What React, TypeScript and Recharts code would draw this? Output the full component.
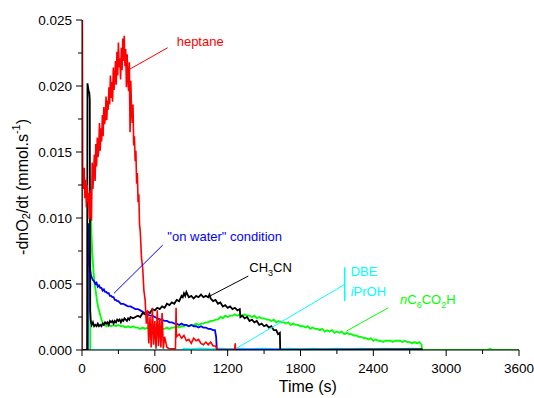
import { Line, LineChart, XAxis, YAxis, ReferenceLine, ReferenceDot } from "recharts";

type P = [number, number];

const heptane: P[] = [
  [0, 0], [2, 0.03], [6, 0.0135], [12, 0.0122], [18, 0.0138], [24, 0.0115], [30, 0.0129], [36, 0.0108],
  [42, 0.0125], [48, 0.0112], [54, 0.0119], [60, 0.0099], [66, 0.0121], [72, 0.0104], [78, 0.0098],
  [84, 0.0142], [90, 0.0122], [96, 0.0135], [102, 0.0148], [108, 0.0128], [114, 0.0156], [120, 0.0139],
  [126, 0.0161], [132, 0.0146], [138, 0.0152], [144, 0.0172], [150, 0.0151], [156, 0.0168], [162, 0.0158],
  [168, 0.0178], [174, 0.0162], [180, 0.0184], [186, 0.0171], [192, 0.0176], [198, 0.0192], [204, 0.0174],
  [210, 0.0189], [216, 0.0182], [222, 0.0199], [228, 0.0186], [234, 0.0208], [240, 0.0191], [246, 0.0203],
  [252, 0.0188], [258, 0.0214], [264, 0.0197], [270, 0.0206], [276, 0.0219], [282, 0.0201], [288, 0.0226],
  [294, 0.0208], [300, 0.0233], [306, 0.0214], [312, 0.0221], [318, 0.0205], [324, 0.0229], [330, 0.0212],
  [336, 0.0236], [342, 0.0219], [348, 0.0238], [354, 0.0215], [360, 0.0228], [366, 0.0199], [372, 0.0224],
  [378, 0.0206], [384, 0.0196], [390, 0.0218], [396, 0.0165], [402, 0.0204], [408, 0.0182], [414, 0.0172],
  [420, 0.0186], [426, 0.0155], [432, 0.0162], [438, 0.0143], [444, 0.0151], [450, 0.0126], [456, 0.0134],
  [462, 0.0112], [468, 0.0118], [474, 0.0095], [480, 0.009], [490, 0.007], [500, 0.0062], [510, 0.0045],
  [520, 0.0038], [530, 0.002], [540, 0.003], [550, 0.0005], [560, 0.0025], [570, 0.0002], [580, 0.0032],
  [590, 0.0004], [600, 0.0022], [610, 0.0001], [620, 0.003], [630, 0.0003], [640, 0.0024], [650, 0.0002],
  [660, 0.0028], [670, 0.0001], [680, 0.001], [700, 0.0002], [720, 0.0001], [770, 0.0001], [775, 0.0032],
  [778, 0.001], [800, 0.0012], [820, 0.0009], [840, 0.0011], [860, 0.0007], [880, 0.0008], [900, 0.0005],
  [920, 0.0009], [940, 0.0007], [960, 0.0008], [980, 0.0005], [1000, 0.0004], [1020, 0.0006],
  [1040, 0.0004], [1060, 0.0006], [1080, 0.0003], [1100, 0.0003], [1120, 0], [1258, 0], [1262, 0.0005],
  [1266, 0],
];

const ch3cn: P[] = [
  [0, 0], [42, 0], [45, 0.0202], [50, 0.0199], [55, 0.0196], [60, 0.0195], [64, 0.019], [67, 0.003],
  [72, 0.0022], [80, 0.0019], [90, 0.0021], [100, 0.0018], [110, 0.0019], [120, 0.0018], [130, 0.002],
  [140, 0.0018], [150, 0.0019], [160, 0.0018], [170, 0.002], [180, 0.0019], [190, 0.0021], [200, 0.002],
  [210, 0.0021], [220, 0.0019], [230, 0.0022], [240, 0.0021], [250, 0.0022], [260, 0.002], [270, 0.0022],
  [280, 0.0021], [290, 0.0023], [300, 0.0022], [310, 0.0023], [320, 0.0021], [330, 0.0023], [340, 0.0022],
  [350, 0.0024], [360, 0.0023], [370, 0.0022], [380, 0.0024], [390, 0.0023], [400, 0.0025], [420, 0.0024],
  [440, 0.0025], [460, 0.0026], [480, 0.0025], [500, 0.0028], [520, 0.0027], [540, 0.0029], [560, 0.0028],
  [580, 0.0031], [600, 0.003], [620, 0.0032], [640, 0.0031], [660, 0.0033], [680, 0.0032], [700, 0.0035],
  [720, 0.0034], [740, 0.0036], [760, 0.0035], [780, 0.0038], [800, 0.0037], [810, 0.0039], [820, 0.0041],
  [830, 0.004], [840, 0.0043], [850, 0.0041], [860, 0.0044], [870, 0.0042], [880, 0.004], [900, 0.0041],
  [920, 0.0039], [940, 0.0041], [960, 0.004], [980, 0.0042], [1000, 0.004], [1020, 0.0041], [1040, 0.004],
  [1050, 0.0042], [1060, 0.0039], [1080, 0.0037], [1100, 0.0038], [1120, 0.0035], [1140, 0.0036],
  [1160, 0.0033], [1180, 0.0034], [1200, 0.0032], [1220, 0.0033], [1240, 0.0031], [1260, 0.0032],
  [1280, 0.003], [1300, 0.0031], [1305, 0.0025], [1320, 0.0026], [1340, 0.0024], [1360, 0.0025],
  [1380, 0.0022], [1400, 0.0023], [1420, 0.0021], [1440, 0.0022], [1460, 0.0019], [1480, 0.002],
  [1500, 0.0018], [1520, 0.0019], [1540, 0.0017], [1560, 0.0018], [1580, 0.0015], [1600, 0.0015],
  [1615, 0.0012], [1630, 0.0013], [1633, 0], [2800, 0.00004], [2802, 0],
];

const onWater: P[] = [
  [0, 0], [48, 0], [50, 0.0096], [54, 0.0085], [58, 0.0072], [63, 0.0065], [68, 0.006], [74, 0.0057],
  [80, 0.0055], [90, 0.0053], [100, 0.0052], [110, 0.005], [120, 0.0051], [130, 0.0048], [140, 0.0049],
  [150, 0.0047], [160, 0.0047], [170, 0.0045], [180, 0.0046], [190, 0.0044], [200, 0.0044], [210, 0.0043],
  [220, 0.0043], [230, 0.0041], [240, 0.0041], [250, 0.004], [260, 0.004], [270, 0.0038], [280, 0.0038],
  [290, 0.0037], [300, 0.0037], [320, 0.0035], [340, 0.0035], [360, 0.0034], [380, 0.0033], [400, 0.0033],
  [420, 0.0032], [440, 0.0031], [460, 0.0031], [480, 0.003], [500, 0.0029], [520, 0.0028], [540, 0.0027],
  [560, 0.0026], [580, 0.0026], [600, 0.0025], [620, 0.0024], [640, 0.0023], [660, 0.0023], [680, 0.0022],
  [700, 0.0022], [720, 0.0021], [740, 0.0021], [760, 0.002], [780, 0.002], [800, 0.0019], [820, 0.002],
  [840, 0.0019], [860, 0.0019], [880, 0.0018], [900, 0.0019], [920, 0.0018], [940, 0.0018], [960, 0.0017],
  [980, 0.0018], [1000, 0.0017], [1020, 0.0017], [1040, 0.0016], [1060, 0.0016], [1080, 0.0015],
  [1095, 0.0015], [1105, 0.001], [1110, 0.0001], [1120, 0.00003], [2800, 0.00003], [2802, 0],
];

const hexanoic: P[] = [
  [0, 0], [68, 0], [70, 0.011], [74, 0.0102], [78, 0.0088], [84, 0.0075], [90, 0.0066], [96, 0.0058],
  [104, 0.005], [114, 0.0044], [124, 0.0037], [134, 0.0032], [146, 0.0028], [160, 0.0023], [175, 0.002],
  [190, 0.0019], [200, 0.0018], [220, 0.0019], [240, 0.0018], [260, 0.0019], [280, 0.0018], [300, 0.0019],
  [320, 0.0018], [340, 0.0018], [360, 0.0017], [380, 0.0018], [400, 0.0017], [420, 0.0018], [440, 0.0017],
  [460, 0.0017], [480, 0.0016], [500, 0.0017], [520, 0.0016], [540, 0.0017], [560, 0.0016], [580, 0.0017],
  [600, 0.0016], [620, 0.0016], [640, 0.0015], [660, 0.0016], [680, 0.0016], [700, 0.0017], [720, 0.0016],
  [740, 0.0017], [760, 0.0017], [780, 0.0018], [800, 0.0017], [820, 0.0018], [840, 0.0018], [860, 0.0019],
  [880, 0.0018], [900, 0.0019], [920, 0.0019], [940, 0.002], [960, 0.0019], [980, 0.002], [1000, 0.002],
  [1020, 0.0021], [1040, 0.0021], [1060, 0.0022], [1080, 0.0022], [1100, 0.0023], [1120, 0.0023],
  [1140, 0.0025], [1160, 0.0024], [1180, 0.0026], [1200, 0.0025], [1220, 0.0026], [1240, 0.0026],
  [1260, 0.0027], [1280, 0.0026], [1300, 0.0027], [1320, 0.0026], [1340, 0.0027], [1360, 0.0026],
  [1380, 0.0026], [1400, 0.0025], [1420, 0.0026], [1440, 0.0024], [1460, 0.0025], [1480, 0.0024],
  [1500, 0.0024], [1520, 0.0023], [1540, 0.0023], [1560, 0.0022], [1580, 0.0023], [1600, 0.0021],
  [1620, 0.0022], [1640, 0.0021], [1660, 0.0021], [1680, 0.002], [1700, 0.0021], [1720, 0.0019],
  [1740, 0.002], [1760, 0.0019], [1780, 0.0019], [1800, 0.0018], [1820, 0.0018], [1840, 0.0017],
  [1860, 0.0018], [1880, 0.0016], [1900, 0.0017], [1920, 0.0016], [1940, 0.0016], [1960, 0.0015],
  [1980, 0.0016], [2000, 0.0014], [2020, 0.0015], [2040, 0.0014], [2060, 0.0015], [2080, 0.0013],
  [2100, 0.0014], [2120, 0.0013], [2140, 0.0014], [2160, 0.0012], [2180, 0.0013], [2200, 0.0012],
  [2220, 0.0012], [2240, 0.0011], [2260, 0.0011], [2280, 0.001], [2300, 0.001], [2320, 0.0009],
  [2340, 0.0009], [2360, 0.0008], [2380, 0.0009], [2400, 0.0007], [2420, 0.0008], [2440, 0.0007],
  [2460, 0.0007], [2480, 0.0006], [2500, 0.0007], [2520, 0.0007], [2540, 0.0007], [2560, 0.0006],
  [2580, 0.0007], [2600, 0.0007], [2620, 0.0007], [2640, 0.0006], [2660, 0.0007], [2680, 0.0006],
  [2700, 0.0006], [2720, 0.0005], [2740, 0.0006], [2760, 0.0005], [2780, 0.0006], [2798, 0.0004],
  [2800, 0], [3340, 0], [3360, 0.0001], [3380, 0], [3600, 0],
];

const dbe: P[] = [[0, 0], [3600, 0]];

const iproh: P[] = [
  [0, 0], [830, 0], [835, 0.00012], [900, 0.00008], [980, 0.00014], [1060, 0.00009], [1140, 0.00013],
  [1220, 0.00008], [1300, 0.00012], [1400, 0.00009], [1500, 0.00013], [1600, 0.00008], [1700, 0.00012],
  [1800, 0.00009], [1900, 0.00013], [2000, 0.00008], [2100, 0.00012], [2200, 0.00009], [2300, 0.00013],
  [2400, 0.00008], [2500, 0.00012], [2600, 0.00009], [2700, 0.00012], [2798, 0.0001], [2800, 0], [3600, 0],
];

const xTicks = [0, 300, 600, 900, 1200, 1500, 1800, 2100, 2400, 2700, 3000, 3300, 3600];
const yTicks = [0, 0.0025, 0.005, 0.0075, 0.01, 0.0125, 0.015, 0.0175, 0.02, 0.0225, 0.025];

const toRows = (d: P[]) => d.map(([t, v]) => ({ t, v }));

const FONT = "'Liberation Sans', Arial, sans-serif";

function XTick({ x, y, payload }: any) {
  const major = payload.value % 600 === 0;
  return (
    <g>
      <line x1={x} x2={x} y1={y} y2={y + (major ? 6 : 4)} stroke="#000" />
      {major && (
        <text x={x} y={y + 23} textAnchor="middle" fontSize={13.5} fontFamily={FONT} fill="#000">
          {payload.value}
        </text>
      )}
    </g>
  );
}

function YTick({ x, y, payload }: any) {
  const major = Math.round(payload.value * 10000) % 50 === 0;
  return (
    <g>
      <line x1={x - (major ? 6 : 4)} x2={x} y1={y} y2={y} stroke="#000" />
      {major && (
        <text x={x - 10} y={y} dy="0.36em" textAnchor="end" fontSize={13.5} fontFamily={FONT} fill="#000">
          {payload.value.toFixed(3)}
        </text>
      )}
    </g>
  );
}

const textAt = (color: string, children: any, size = 13) => (props: any) => (
  <text x={props.cx} y={props.cy} dy="0.35em" fontSize={size} fontFamily={FONT} fill={color}>
    {children}
  </text>
);

export default function App() {
  return (
    <div style={{ position: "absolute", left: 0, top: 0, background: "#fff" }}>
      <LineChart width={534} height={398} margin={{ top: 20, right: 15, bottom: 8, left: 22 }}>
        <XAxis
          type="number"
          dataKey="t"
          domain={[0, 3600]}
          ticks={xTicks}
          allowDataOverflow
          height={40}
          tickLine={false}
          tickSize={0}
          tickMargin={0}
          tick={<XTick />}
          axisLine={{ stroke: "#000" }}
          interval={0}
        />
        <YAxis
          type="number"
          domain={[0, 0.025]}
          ticks={yTicks}
          allowDataOverflow
          width={60}
          tickLine={false}
          tickSize={0}
          tickMargin={0}
          tick={<YTick />}
          axisLine={{ stroke: "#000" }}
          interval={0}
        />

        <Line data={toRows(dbe)} dataKey="v" stroke="#00ffff" strokeWidth={1.2} dot={false} isAnimationActive={false} />
        <Line data={toRows(iproh)} dataKey="v" stroke="#00ffff" strokeWidth={1.2} dot={false} isAnimationActive={false} />
        <Line data={toRows(hexanoic)} dataKey="v" stroke="#00ff00" strokeWidth={1.8} dot={false} isAnimationActive={false} />
        <Line data={toRows(onWater)} dataKey="v" stroke="#0000ff" strokeWidth={1.8} dot={false} isAnimationActive={false} />
        <Line data={toRows(ch3cn)} dataKey="v" stroke="#000000" strokeWidth={1.8} dot={false} isAnimationActive={false} />
        <Line data={toRows(heptane)} dataKey="v" stroke="#ff0000" strokeWidth={1.6} dot={false} isAnimationActive={false} />

        <ReferenceLine segment={[{ x: 381, y: 0.02121 }, { x: 706, y: 0.0229 }]} stroke="#ff0000" ifOverflow="visible" />
        <ReferenceLine segment={[{ x: 665, y: 0.00795 }, { x: 264, y: 0.0043 }]} stroke="#0000ff" ifOverflow="visible" />
        <ReferenceLine segment={[{ x: 1370, y: 0.0056 }, { x: 1054, y: 0.00409 }]} stroke="#000000" ifOverflow="visible" />
        <ReferenceLine segment={[{ x: 2164, y: 0.00627 }, { x: 2164, y: 0.00371 }]} stroke="#00ffff" strokeWidth={1.5} ifOverflow="visible" />
        <ReferenceLine segment={[{ x: 2164, y: 0.00497 }, { x: 1274, y: 0.00013 }]} stroke="#00ffff" ifOverflow="visible" />
        <ReferenceLine segment={[{ x: 2523, y: 0.0032 }, { x: 2180, y: 0.00144 }]} stroke="#00ff00" ifOverflow="visible" />

        <ReferenceDot x={780} y={0.02341} r={0} ifOverflow="visible" shape={textAt("#ff0000", "heptane")} />
        <ReferenceDot x={703} y={0.00858} r={0} ifOverflow="visible" shape={textAt("#0000ff", "\"on water\" condition")} />
        <ReferenceDot
          x={1378}
          y={0.00627}
          r={0}
          ifOverflow="visible"
          shape={textAt("#000000", [
            <tspan key="a">CH</tspan>,
            <tspan key="b" fontSize={9} dy={4}>3</tspan>,
            <tspan key="c" dy={-4}>CN</tspan>,
          ])}
        />
        <ReferenceDot x={2213} y={0.00593} r={0} ifOverflow="visible" shape={textAt("#00ffff", "DBE")} />
        <ReferenceDot
          x={2213}
          y={0.00442}
          r={0}
          ifOverflow="visible"
          shape={textAt("#00ffff", [
            <tspan key="a" fontStyle="italic">i</tspan>,
            <tspan key="b">PrOH</tspan>,
          ])}
        />
        <ReferenceDot
          x={2620}
          y={0.00384}
          r={0}
          ifOverflow="visible"
          shape={textAt("#00ff00", [
            <tspan key="a" fontStyle="italic">n</tspan>,
            <tspan key="b">C</tspan>,
            <tspan key="c" fontSize={9} dy={4}>6</tspan>,
            <tspan key="d" dy={-4}>CO</tspan>,
            <tspan key="e" fontSize={9} dy={4}>2</tspan>,
            <tspan key="f" dy={-4}>H</tspan>,
          ])}
        />

        {/* axis titles, placed in data space below / left of the plot */}
        <ReferenceDot x={1860} y={-0.00273} r={0} ifOverflow="visible" shape={(p: any) => (
          <text x={p.cx} y={p.cy} textAnchor="middle" dominantBaseline="central" fontSize={16} fontFamily={FONT} fill="#000">
            Time (s)
          </text>
        )} />
        <ReferenceDot x={-494} y={0.01235} r={0} ifOverflow="visible" shape={(p: any) => (
          <text
            x={p.cx}
            y={p.cy}
            transform={`rotate(-90 ${p.cx} ${p.cy})`}
            textAnchor="middle"
            dominantBaseline="central"
            fontSize={16}
            fontFamily={FONT}
            fill="#000"
          >
            -dnO<tspan fontSize={11} dy={4}>2</tspan>
            <tspan dy={-4}>/dt (mmol.s</tspan>
            <tspan fontSize={11} dy={-6}>-1</tspan>
            <tspan dy={6}>)</tspan>
          </text>
        )} />
      </LineChart>
    </div>
  );
}
